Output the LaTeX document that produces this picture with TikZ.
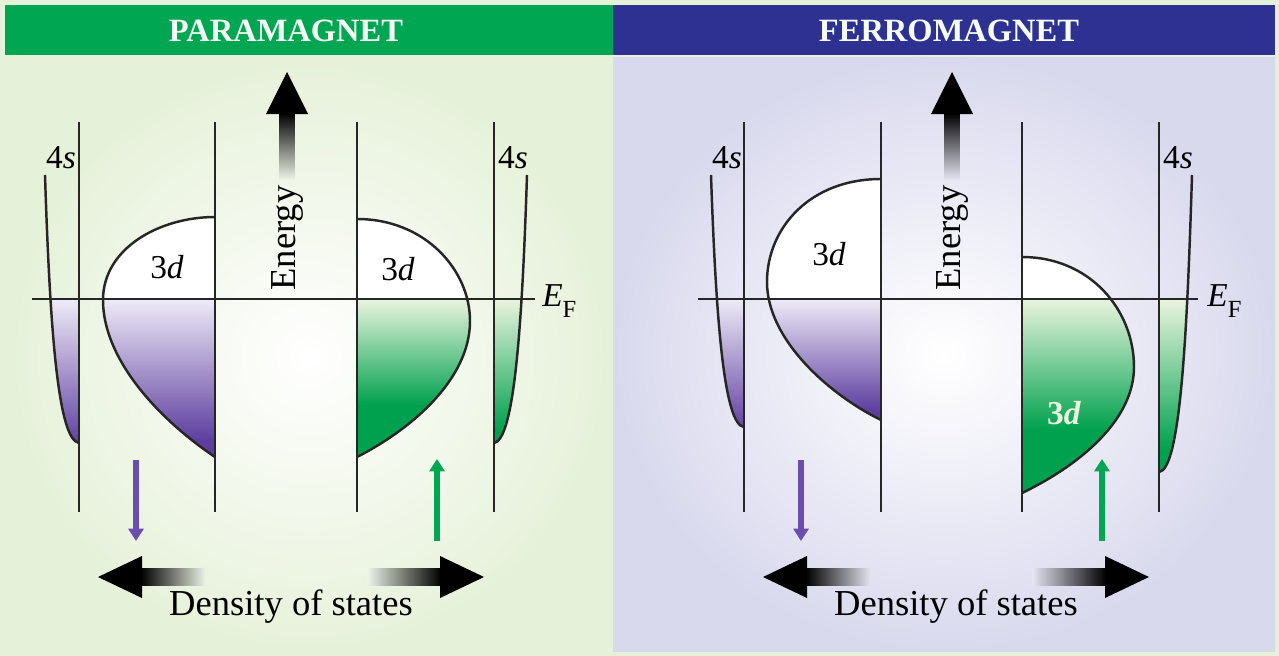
\documentclass[tikz,border=0pt]{standalone}
\usepackage{fontspec}
\setmainfont{Liberation Serif}
\usetikzlibrary{arrows.meta}
\definecolor{bgL}{HTML}{E6F1D9}
\definecolor{bgR}{HTML}{D9D9EE}
\definecolor{hdG}{HTML}{00A651}
\definecolor{hdB}{HTML}{2E3192}
\definecolor{pTop}{HTML}{EEEBF7}
\definecolor{pBot}{HTML}{5E3FA0}
\definecolor{gTop}{HTML}{EAF4DE}
\definecolor{gBot}{HTML}{00A14E}
\definecolor{spinP}{HTML}{6A4DAE}
\definecolor{spinG}{HTML}{00A651}
\definecolor{shaftL}{HTML}{EEF5E8}
\definecolor{shaftR}{HTML}{E6E6F3}
\tikzset{
  axis/.style={line width=1.6pt,black!85},
  band/.style={line width=1.4pt,black!85},
  lbl/.style={font=\fontsize{19}{22}\selectfont},
  biglbl/.style={font=\fontsize{20.8}{24}\selectfont},
  hdr/.style={font=\fontsize{18.5}{22}\selectfont\bfseries,text=white!96!green},
  spinarrow/.style={line width=2.9pt,-{Triangle[length=7pt,width=8.5pt]}},
}
\begin{document}
\begin{tikzpicture}[x=0.02cm,y=-0.02cm]
\useasboundingbox (0,0) rectangle (1279,656);
% backgrounds
\fill[bgL] (0,0) rectangle (1279,656);
\shade[inner color=white,outer color=bgL] (5,57) rectangle (613,656);
\shade[inner color=white,outer color=bgR] (613,57) rectangle (1275,651);
\fill[hdG] (5,5) rectangle (613,55);
\fill[hdB] (613,5) rectangle (1275,55);
\node[hdr] (hp) at (286,31) {PARAMAGNET};
\node[hdr] (hf) at (949,31) {FERROMAGNET};

% ---------- PARAMAGNET ----------
% 3d spin down (left)
\fill[white] (215,217) .. controls (160,217) and (103,248) .. (103,300) .. controls (103,360) and (160,420) .. (215,457) -- cycle;
\begin{scope}
\clip (215,217) .. controls (160,217) and (103,248) .. (103,300) .. controls (103,360) and (160,420) .. (215,457) -- cycle;
\shade[top color=pTop,bottom color=pBot] (95,299) rectangle (216,440);
\fill[pBot] (95,439.5) rectangle (216,460);
\end{scope}
\draw[band] (215,217) .. controls (160,217) and (103,248) .. (103,300) .. controls (103,360) and (160,420) .. (215,457);
% 4s spin down
\begin{scope}
\clip (45,175) .. controls (50,330) and (58,440) .. (79,443) -- (79,175) -- cycle;
\shade[top color=pTop,bottom color=pBot] (40,299) rectangle (80,445);
\end{scope}
\draw[band] (45,175) .. controls (50,330) and (58,440) .. (79,443);
% 3d spin up (right)
\fill[white] (357,219) .. controls (425,219) and (470,270) .. (470,321) .. controls (470,380) and (410,430) .. (357,457) -- cycle;
\begin{scope}
\clip (357,219) .. controls (425,219) and (470,270) .. (470,321) .. controls (470,380) and (410,430) .. (357,457) -- cycle;
\shade[top color=gTop,bottom color=gBot] (356,299) rectangle (475,405);
\fill[gBot] (356,404.5) rectangle (475,460);
\end{scope}
\draw[band] (357,219) .. controls (425,219) and (470,270) .. (470,321) .. controls (470,380) and (410,430) .. (357,457);
% 4s spin up
\begin{scope}
\clip (527,175) .. controls (522,330) and (514,440) .. (494,443) -- (494,175) -- cycle;
\shade[top color=gTop,bottom color=gBot] (493,299) rectangle (530,430);
\fill[gBot] (493,429.5) rectangle (530,446);
\end{scope}
\draw[band] (527,175) .. controls (522,330) and (514,440) .. (494,443);
% axes
\coordinate (pa1t) at (79,122);  \coordinate (pa1b) at (79,512);
\coordinate (pa2t) at (215,122); \coordinate (pa2b) at (215,512);
\coordinate (pa3t) at (357,122); \coordinate (pa3b) at (357,512);
\coordinate (pa4t) at (494,122); \coordinate (pa4b) at (494,512);
\draw[axis] (pa1t) -- (pa1b);
\draw[axis] (pa2t) -- (pa2b);
\draw[axis] (pa3t) -- (pa3b);
\draw[axis] (pa4t) -- (pa4b);
\coordinate (pefl) at (32,299); \coordinate (pefr) at (535,299);
\draw[axis] (pefl) -- (pefr);
\node[lbl,anchor=west,inner sep=0pt] (pef) at (542,301) {\textit{E}\raisebox{-0.32em}{\fontsize{14}{14}\selectfont F}};
\node[lbl] (p4sl) at (61,158) {4\textit{s}};
\node[lbl] (p4sr) at (513,158) {4\textit{s}};
\node[lbl] (p3dl) at (167,267) {3\textit{d}};
\node[lbl] (p3dr) at (398,269) {3\textit{d}};
% energy arrow
\fill[black] (266,114) -- (287,72) -- (308,114) -- cycle;
\shade[top color=black,bottom color=shaftL] (279.5,113) rectangle (294.5,180);
\node[biglbl,rotate=90] (pen) at (287,238) {Energy};
% spin arrows
\coordinate (psd1) at (136,460); \coordinate (psd2) at (136,541);
\draw[spinarrow,spinP] (psd1) -- (psd2);
\coordinate (psu1) at (437,541); \coordinate (psu2) at (437,459);
\draw[spinarrow,spinG] (psu1) -- (psu2);
% density arrows
\fill[black] (98,577) -- (142,556) -- (142,598) -- cycle;
\shade[left color=black,right color=shaftL] (141,568.5) rectangle (206,585.5);
\shade[left color=shaftL,right color=black] (367,568.5) rectangle (441,585.5);
\fill[black] (440,556) -- (484,577) -- (440,598) -- cycle;
\node[biglbl] (pdos) at (291,607) {Density of states};

% ---------- FERROMAGNET ----------
% 3d spin down (left)
\fill[white] (881,179) .. controls (810,179) and (767,228) .. (767,282) .. controls (767,340) and (830,395) .. (881,420) -- cycle;
\begin{scope}
\clip (881,179) .. controls (810,179) and (767,228) .. (767,282) .. controls (767,340) and (830,395) .. (881,420) -- cycle;
\shade[top color=pTop,bottom color=pBot] (760,299) rectangle (882,410);
\fill[pBot] (760,409.5) rectangle (882,425);
\end{scope}
\draw[band] (881,179) .. controls (810,179) and (767,228) .. (767,282) .. controls (767,340) and (830,395) .. (881,420);
% 4s spin down
\begin{scope}
\clip (711,175) .. controls (716,320) and (724,425) .. (744,427) -- (744,175) -- cycle;
\shade[top color=pTop,bottom color=pBot] (705,299) rectangle (745,430);
\end{scope}
\draw[band] (711,175) .. controls (716,320) and (724,425) .. (744,427);
% 3d spin up (right)
\fill[white] (1022,257) .. controls (1090,257) and (1134,310) .. (1134,367) .. controls (1134,420) and (1080,465) .. (1022,493) -- cycle;
\begin{scope}
\clip (1022,257) .. controls (1090,257) and (1134,310) .. (1134,367) .. controls (1134,420) and (1080,465) .. (1022,493) -- cycle;
\shade[top color=gTop,bottom color=gBot] (1020,299) rectangle (1140,430);
\fill[gBot] (1020,429.5) rectangle (1140,496);
\end{scope}
\draw[band] (1022,257) .. controls (1090,257) and (1134,310) .. (1134,367) .. controls (1134,420) and (1080,465) .. (1022,493);
% 4s spin up
\begin{scope}
\clip (1192,175) .. controls (1187,340) and (1180,470) .. (1159,472) -- (1159,175) -- cycle;
\shade[top color=gTop,bottom color=gBot] (1158,299) rectangle (1195,450);
\fill[gBot] (1158,449.5) rectangle (1195,475);
\end{scope}
\draw[band] (1192,175) .. controls (1187,340) and (1180,470) .. (1159,472);
% axes
\coordinate (fa1t) at (744,122);  \coordinate (fa1b) at (744,512);
\coordinate (fa2t) at (881,122);  \coordinate (fa2b) at (881,512);
\coordinate (fa3t) at (1022,122); \coordinate (fa3b) at (1022,512);
\coordinate (fa4t) at (1159,122); \coordinate (fa4b) at (1159,512);
\draw[axis] (fa1t) -- (fa1b);
\draw[axis] (fa2t) -- (fa2b);
\draw[axis] (fa3t) -- (fa3b);
\draw[axis] (fa4t) -- (fa4b);
\coordinate (fefl) at (698,299); \coordinate (fefr) at (1198,299);
\draw[axis] (fefl) -- (fefr);
\node[lbl,anchor=west,inner sep=0pt] (fef) at (1207,301) {\textit{E}\raisebox{-0.32em}{\fontsize{14}{14}\selectfont F}};
\node[lbl] (f4sl) at (727,158) {4\textit{s}};
\node[lbl] (f4sr) at (1178,158) {4\textit{s}};
\node[lbl] (f3dl) at (829,254) {3\textit{d}};
\node[lbl,text=gTop] (f3dr) at (1064,413) {\bfseries 3\textit{d}};
% energy arrow
\fill[black] (931,114) -- (952,72) -- (973,114) -- cycle;
\shade[top color=black,bottom color=shaftR] (944.5,113) rectangle (959.5,180);
\node[biglbl,rotate=90] (fen) at (952,238) {Energy};
% spin arrows
\coordinate (fsd1) at (801,460); \coordinate (fsd2) at (801,541);
\draw[spinarrow,spinP] (fsd1) -- (fsd2);
\coordinate (fsu1) at (1102,541); \coordinate (fsu2) at (1102,459);
\draw[spinarrow,spinG] (fsu1) -- (fsu2);
% density arrows
\fill[black] (763,577) -- (807,556) -- (807,598) -- cycle;
\shade[left color=black,right color=shaftR] (806,568.5) rectangle (871,585.5);
\shade[left color=shaftR,right color=black] (1032,568.5) rectangle (1106,585.5);
\fill[black] (1105,556) -- (1149,577) -- (1105,598) -- cycle;
\node[biglbl] (fdos) at (956,607) {Density of states};
\end{tikzpicture}
\end{document}
